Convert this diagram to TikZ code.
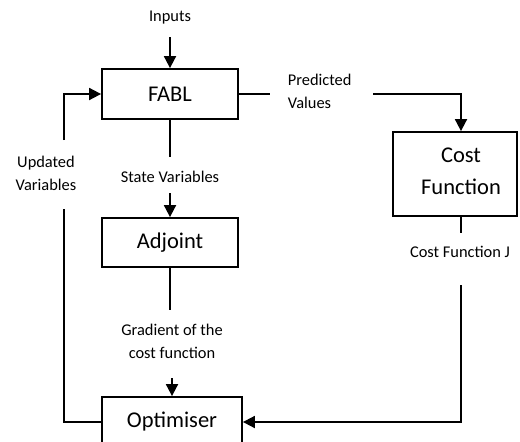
\documentclass[tikz,border=0pt]{standalone}
\usepackage{fontspec}
\setmainfont{Carlito}
\usetikzlibrary{arrows.meta, calc}

\begin{document}
\begin{tikzpicture}[x=1pt, y=-1pt, line width=1.8pt,
  box/.style = {draw, rectangle, inner sep=0pt, font=\fontsize{22.5}{32}\selectfont, align=center},
  lbl/.style = {inner sep=0pt, font=\fontsize{16.4}{23}\selectfont, align=center},
  arr/.style = {-{Triangle[length=12pt, width=12pt]}}]
\clip (0,0) rectangle (520,442);
\node[box, minimum width=136pt, minimum height=50pt] (fabl) at (170,94) {FABL};
\node[box, minimum width=136pt, minimum height=49pt] (adj) at (170,242.5) {Adjoint};
\node[box, minimum width=140pt, minimum height=50pt] (opt) at (172,422) {Optimiser};
\node[box, minimum width=124pt, minimum height=84pt] (cost) at (455,174) {};
\node[box, draw=none] (costtxt) at ($(cost.center)+(6,-3)$) {Cost\\Function};

\node[lbl] (inputs) at (170,18) {Inputs};
\node[lbl, anchor=west, align=left] (pred) at (287,91) {Predicted\\Values};
\node[lbl] (state) at (170,177) {State Variables};
\node[lbl] (grad) at (172,341) {Gradient of the\\cost function};
\node[lbl] (costj) at (460,252) {Cost Function J};
\node[lbl] (upd) at (46,173) {Updated\\Variables};

\coordinate (inend) at (170,37);
\coordinate (stateup) at (170,157);
\coordinate (statedn) at (170,193);
\coordinate (gradup) at (170,310);
\coordinate (graddn) at (172,378);
\coordinate (predl) at (270,94);
\coordinate (predr) at (373,94);
\coordinate (costin) at ($(cost.north)+(6,0)$);
\coordinate (costout) at ($(cost.south)+(6,0)$);
\coordinate (costjup) at (461,233);
\coordinate (costjdn) at (461,285);
\coordinate (updup) at (64,140);
\coordinate (upddn) at (64,209);

\draw[arr] (inend) -- (fabl.north);
\draw (fabl.south) -- (stateup);
\draw[arr] (statedn) -- (adj.north);
\draw (adj.south) -- (gradup);
\draw[arr] (graddn) -- (opt.north);
\draw (fabl.east) -- (predl);
\draw[arr] (predr) -| (costin);
\draw (costout) -- (costjup);
\draw[arr] (costjdn) |- (opt.east);
\draw (opt.west) -| (upddn);
\draw[arr] (updup) |- (fabl.west);
\end{tikzpicture}
\end{document}
